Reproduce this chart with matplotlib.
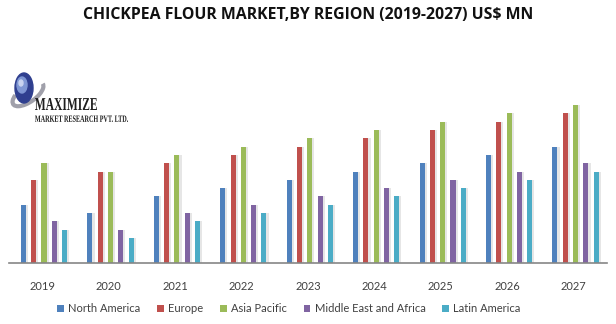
import numpy as np
import matplotlib.pyplot as plt
from matplotlib.patches import Ellipse, Arc, PathPatch
from matplotlib.textpath import TextPath
from matplotlib.font_manager import FontProperties
from matplotlib.transforms import Affine2D

# Market size by region, US$ MN
years = ['2019', '2020', '2021', '2022', '2023', '2024', '2025', '2026', '2027']
north_america = [7, 6, 8, 9, 10, 11, 12, 13, 14]
europe = [10, 11, 12, 13, 14, 15, 16, 17, 18]
asia_pacific = [12, 11, 13, 14, 15, 16, 17, 18, 19]
middle_east_africa = [5, 4, 6, 7, 8, 9, 10, 11, 12]
latin_america = [4, 3, 5, 6, 7, 8, 9, 10, 11]

regions = ['North America', 'Europe', 'Asia Pacific', 'Middle East and Africa', 'Latin America']
series = [north_america, europe, asia_pacific, middle_east_africa, latin_america]
colors = ['#4F81BD', '#C0504D', '#9BBB59', '#8064A2', '#4BACC6']

W, H = 616, 324
fig = plt.figure(figsize=(W / 100, H / 100), dpi=100)
fig.patch.set_facecolor('white')

# plot area in pixel coords
left, right, bottom, top = 9, 607, 263, 80
ax = fig.add_axes([left / W, (H - bottom) / H, (right - left) / W, (bottom - top) / H])

x = np.arange(len(years))
pitch = 0.155
width = 0.076
for i, (vals, c, name) in enumerate(zip(series, colors, regions)):
    pos = x + (i - 2) * pitch + 0.027
    # soft drop shadow behind each bar
    ax.bar(pos + 0.022, vals, width=width + 0.02, color='#e6e6e6', zorder=1)
    ax.bar(pos, vals, width=width, color=c, zorder=2, label=name)

ax.set_xlim(-0.5, len(years) - 0.5)
ax.set_ylim(0, 22)
ax.set_xticks(x)
ax.set_xticklabels(years, fontsize=8, color='#404040', family='Lato')
ax.tick_params(axis='x', length=0, pad=13)
ax.set_yticks([])
for s in ['top', 'right', 'left']:
    ax.spines[s].set_visible(False)
ax.spines['bottom'].set_color('#868686')
ax.spines['bottom'].set_linewidth(1.2)

fig.text(0.5, 1 - 15 / H, 'CHICKPEA FLOUR MARKET,BY REGION (2019-2027) US$ MN',
         ha='center', va='center', fontsize=11.4, fontweight='bold',
         family='Open Sans', color='#111111')

# company logo, drawn in pixel units (y measured up from pixel row 130)
lax = fig.add_axes([0, 1 - 130 / H, 140 / W, 70 / H])
lax.set_xlim(0, 140)
lax.set_ylim(0, 70)
lax.axis('off')


def fitted_text(s, x0, y0, w, h):
    tp = TextPath((0, 0), s, size=10,
                  prop=FontProperties(family='Liberation Serif', weight='bold'))
    ext = tp.get_extents()
    tr = (Affine2D().translate(-ext.x0, -ext.y0)
          .scale(w / ext.width, h / ext.height).translate(x0, y0))
    lax.add_patch(PathPatch(tr.transform_path(tp), color='#1e1e1e', lw=0))


lax.add_patch(Arc((28, 36), 36, 16, angle=35, theta1=150, theta2=360,
                  color='#a0a0aa', lw=3))
lax.add_patch(Ellipse((24, 42), 18, 30, color='#2f3f8f'))
lax.add_patch(Ellipse((22, 45), 10, 16, color='#7f97d4'))
lax.add_patch(Ellipse((21, 47), 4, 6, color='#c9d4f0'))
fitted_text('MAXIMIZE', 35, 20, 62, 12)
fitted_text('MARKET RESEARCH PVT. LTD.', 35, 8, 93, 6.5)

handles, labels = ax.get_legend_handles_labels()
fig.legend(handles, labels, loc='center', bbox_to_anchor=(289 / W, 1 - 309 / H), ncol=5,
           frameon=False, prop={'family': 'Lato', 'size': 8}, handlelength=0.6,
           handleheight=0.6, handletextpad=0.4, columnspacing=1.5, labelcolor='#404040')

fig.savefig('out.png', dpi=100, facecolor='white')
